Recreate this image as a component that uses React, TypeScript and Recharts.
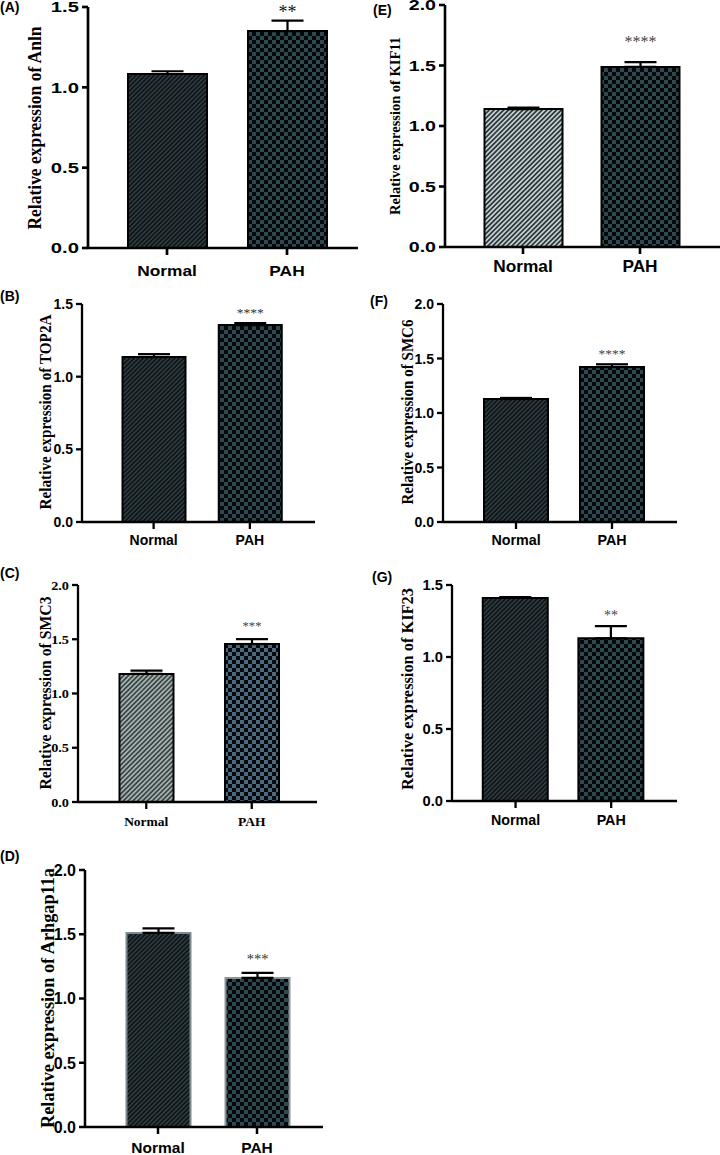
import React from "react";
import {
  BarChart,
  Bar,
  XAxis,
  YAxis,
  ErrorBar,
  Cell,
  LabelList,
  Label,
} from "recharts";

const GROUPS = ["Normal", "PAH"];

// mean and upper error (SEM) per group
const ANLN_MEAN = [1.083, 1.35];
const ANLN_ERR = [0.017, 0.065];
const TOP2A_MEAN = [1.135, 1.355];
const TOP2A_ERR = [0.02, 0.014];
const SMC3_MEAN = [1.18, 1.456];
const SMC3_ERR = [0.03, 0.045];
const ARHGAP11A_MEAN = [1.51, 1.16];
const ARHGAP11A_ERR = [0.035, 0.04];
const KIF11_MEAN = [1.14, 1.488];
const KIF11_ERR = [0.012, 0.04];
const SMC6_MEAN = [1.128, 1.422];
const SMC6_ERR = [0.01, 0.025];
const KIF23_MEAN = [1.41, 1.13];
const KIF23_ERR = [0.006, 0.085];

const STARS_ANLN = ["", "**"];
const STARS_TOP2A = ["", "****"];
const STARS_SMC3 = ["", "***"];
const STARS_ARHGAP11A = ["", "***"];
const STARS_KIF11 = ["", "****"];
const STARS_SMC6 = ["", "****"];
const STARS_KIF23 = ["", "**"];

const TICKS_15 = [0, 0.5, 1.0, 1.5];
const TICKS_20 = [0, 0.5, 1.0, 1.5, 2.0];

const SANS = "'Liberation Sans', Arial, sans-serif";
const SERIF = "'Liberation Serif', 'Times New Roman', serif";

interface Layout {
  letter: string;
  gene: string;
  left: number;
  top: number;
  width: number;
  plotTop: number;
  plotBottom: number;
  yAxisW: number;
  padL: number;
  padR: number;
  barSize: number;
  labelX: number;
  labelY: number;
  labelSize: number;
  labelLen: number;
  tickFont: string;
  yTickSize: number;
  yTickSx: number;
  xTickSize: number;
  xTickSx: number;
  xGap: number;
  axisW: number;
  starSize: number;
  starGap: number;
  starColor: string;
  letterX: number;
  letterY: number;
  fills: string[];
  strokes: string[];
}

function makeRows(mean: number[], err: number[], stars: string[]) {
  return GROUPS.map((g, i) => ({
    group: g,
    mean: mean[i],
    err: [0, err[i]],
    star: stars[i],
  }));
}

function Panel({
  L,
  mean,
  err,
  stars,
  ticks,
}: {
  L: Layout;
  mean: number[];
  err: number[];
  stars: string[];
  ticks: number[];
}) {
  const rows = makeRows(mean, err, stars);
  const marginTop = L.plotTop - L.top;
  const height = L.plotBottom - L.top + 40;

  const yTick = (p: any) => (
    <text
      transform={`translate(${p.x},${p.y}) scale(${L.yTickSx},1)`}
      textAnchor="end"
      dy="0.36em"
      fontFamily={L.tickFont}
      fontWeight="bold"
      fontSize={L.yTickSize}
      fill="#000"
    >
      {Number(p.payload.value).toFixed(1)}
    </text>
  );

  const xTick = (p: any) => (
    <text
      transform={`translate(${p.x},${p.y}) scale(${L.xTickSx},1)`}
      textAnchor="middle"
      dy="0.72em"
      fontFamily={L.tickFont}
      fontWeight="bold"
      fontSize={L.xTickSize}
      fill="#000"
    >
      {p.payload.value}
    </text>
  );

  const yTitle = () => (
    <text
      transform={`translate(${L.labelX},${L.labelY - L.top}) rotate(-90)`}
      textAnchor="middle"
      dominantBaseline="central"
      fontFamily={SERIF}
      fontWeight="bold"
      fontSize={L.labelSize}
      textLength={L.labelLen}
      lengthAdjust="spacingAndGlyphs"
      fill="#000"
    >
      {`Relative expression of ${L.gene}`}
    </text>
  );

  const starLabel = (p: any) => {
    const i = p.index;
    if (!rows[i] || !rows[i].star) return null;
    const vb = p.viewBox || p;
    const x = (p.x ?? vb.x) + (p.width ?? vb.width) / 2;
    const y = p.y ?? vb.y;
    const h = p.height ?? vb.height;
    const unit = h / rows[i].mean;
    const cy = y - err[i] * unit - L.starGap;
    return (
      <text
        x={x}
        y={cy + L.starSize * 0.5}
        textAnchor="middle"
        fontFamily={SERIF}
        fontSize={L.starSize}
        fill={L.starColor}
      >
        {rows[i].star}
      </text>
    );
  };

  return (
    <>
      <div
        style={{
          position: "absolute",
          left: L.letterX,
          top: L.letterY,
          fontFamily: SANS,
          fontWeight: "bold",
          fontSize: 14,
          lineHeight: "14px",
        }}
      >
        {L.letter}
      </div>
      <div style={{ position: "absolute", left: L.left, top: L.top }}>
        <BarChart
          width={L.width}
          height={height}
          data={rows}
          margin={{ top: marginTop, right: 0, bottom: 0, left: 0 }}
        >
          <XAxis
            dataKey="group"
            height={40}
            padding={{ left: L.padL, right: L.padR }}
            axisLine={{ stroke: "#000", strokeWidth: L.axisW }}
            tickLine={{ stroke: "#000", strokeWidth: L.axisW }}
            tickSize={7}
            tickMargin={L.xGap - 7}
            tick={xTick}
            interval={0}
          />
          <YAxis
            width={L.yAxisW}
            domain={[0, ticks[ticks.length - 1]]}
            ticks={ticks}
            interval={0}
            axisLine={{ stroke: "#000", strokeWidth: L.axisW }}
            tickLine={{ stroke: "#000", strokeWidth: L.axisW }}
            tickSize={6}
            tickMargin={3}
            tick={yTick}
          >
            <Label content={yTitle} />
          </YAxis>
          <Bar
            dataKey="mean"
            barSize={L.barSize}
            strokeWidth={2}
            isAnimationActive={false}
          >
            {rows.map((r, i) => (
              <Cell key={r.group} fill={L.fills[i]} stroke={L.strokes[i]} />
            ))}
            <ErrorBar
              dataKey="err"
              width={16}
              stroke="#000"
              strokeWidth={2.2}
              isAnimationActive={false}
            />
            <LabelList dataKey="star" content={starLabel} />
          </Bar>
        </BarChart>
      </div>
    </>
  );
}

const DARK = ["url(#stripeDark)", "url(#checkDark)"];
const BLACK = ["#000", "#000"];

const LAYOUT_A: Layout = {
  letter: "(A)", gene: "Anln", left: 0, top: 0, width: 358,
  plotTop: 7, plotBottom: 248, yAxisW: 88, padL: 19, padR: 11, barSize: 79,
  labelX: 35, labelY: 128, labelSize: 18.5, labelLen: 203, tickFont: SANS, yTickSize: 15, yTickSx: 1.35,
  xTickSize: 15.5, xTickSx: 1.12, xGap: 17, axisW: 2.7, starSize: 18, starGap: 12, starColor: "#111",
  letterX: 0, letterY: 0, fills: DARK, strokes: BLACK,
};
const LAYOUT_E: Layout = {
  letter: "(E)", gene: "KIF11", left: 360, top: 0, width: 360,
  plotTop: 5, plotBottom: 247, yAxisW: 85, padL: 19.5, padR: 21.5, barSize: 78,
  labelX: 34, labelY: 126, labelSize: 15.5, labelLen: 178, tickFont: SANS, yTickSize: 14, yTickSx: 1.4,
  xTickSize: 16, xTickSx: 1.08, xGap: 13, axisW: 2.6, starSize: 16, starGap: 23, starColor: "#444",
  letterX: 373, letterY: 3, fills: ["url(#stripeLight)", "url(#checkDark)"], strokes: BLACK,
};
const LAYOUT_B: Layout = {
  letter: "(B)", gene: "TOP2A", left: 0, top: 290, width: 315,
  plotTop: 304, plotBottom: 522, yAxisW: 82, padL: 23.5, padR: 17, barSize: 63,
  labelX: 45, labelY: 412, labelSize: 17, labelLen: 195, tickFont: SANS, yTickSize: 14, yTickSx: 1,
  xTickSize: 14, xTickSx: 1, xGap: 13, axisW: 2.3, starSize: 13.5, starGap: 13, starColor: "#333",
  letterX: 0, letterY: 289, fills: DARK, strokes: BLACK,
};
const LAYOUT_F: Layout = {
  letter: "(F)", gene: "SMC6", left: 360, top: 290, width: 317,
  plotTop: 304, plotBottom: 522, yAxisW: 83, padL: 25, padR: 17, barSize: 64,
  labelX: 47, labelY: 412, labelSize: 16.5, labelLen: 185, tickFont: SANS, yTickSize: 14, yTickSx: 1,
  xTickSize: 14.3, xTickSx: 1, xGap: 13, axisW: 2.3, starSize: 13.5, starGap: 13, starColor: "#444",
  letterX: 370, letterY: 294, fills: DARK, strokes: BLACK,
};
const LAYOUT_C: Layout = {
  letter: "(C)", gene: "SMC3", left: 0, top: 560, width: 317,
  plotTop: 585, plotBottom: 802, yAxisW: 78, padL: 15.5, padR: 12.5, barSize: 54,
  labelX: 45, labelY: 693, labelSize: 17, labelLen: 193, tickFont: SERIF, yTickSize: 13, yTickSx: 1.1,
  xTickSize: 13.5, xTickSx: 1, xGap: 14, axisW: 2.3, starSize: 12.7, starGap: 15, starColor: "#444",
  letterX: 0, letterY: 566, fills: ["url(#stripeLightC)", "url(#checkC)"], strokes: BLACK,
};
const LAYOUT_G: Layout = {
  letter: "(G)", gene: "KIF23", left: 360, top: 560, width: 317,
  plotTop: 585, plotBottom: 801, yAxisW: 92, padL: 15.75, padR: 18, barSize: 65,
  labelX: 47, labelY: 689, labelSize: 17.5, labelLen: 202, tickFont: SANS, yTickSize: 14, yTickSx: 1.05,
  xTickSize: 14.3, xTickSx: 1, xGap: 14, axisW: 2.3, starSize: 14, starGap: 13, starColor: "#444",
  letterX: 372, letterY: 570, fills: DARK, strokes: BLACK,
};
const LAYOUT_D: Layout = {
  letter: "(D)", gene: "Arhgap11a", left: 0, top: 850, width: 323,
  plotTop: 870, plotBottom: 1127, yAxisW: 85, padL: 23.5, padR: 16.5, barSize: 64,
  labelX: 47, labelY: 998, labelSize: 19.5, labelLen: 260, tickFont: SANS, yTickSize: 16, yTickSx: 1,
  xTickSize: 15.5, xTickSx: 1, xGap: 15, axisW: 2.5, starSize: 14.5, starGap: 16, starColor: "#333",
  letterX: 0, letterY: 849, fills: DARK, strokes: ["#7d8b90", "#8a969a"],
};

function Patterns() {
  return (
    <svg width={0} height={0} style={{ position: "absolute" }}>
      <defs>
        <pattern id="stripeDark" patternUnits="userSpaceOnUse" width={3.2} height={3.2} patternTransform="rotate(45)">
          <rect width={3.2} height={3.2} fill="#0f1416" />
          <rect width={1.3} height={3.2} fill="#34444a" />
        </pattern>
        <pattern id="stripeLight" patternUnits="userSpaceOnUse" width={3.4} height={3.4} patternTransform="rotate(45)">
          <rect width={3.4} height={3.4} fill="#2c393e" />
          <rect width={1.7} height={3.4} fill="#c3ccce" />
        </pattern>
        <pattern id="stripeLightC" patternUnits="userSpaceOnUse" width={3.4} height={3.4} patternTransform="rotate(45)">
          <rect width={3.4} height={3.4} fill="#3b4647" />
          <rect width={1.7} height={3.4} fill="#a6b0b0" />
        </pattern>
        <pattern id="checkDark" patternUnits="userSpaceOnUse" width={8} height={8}>
          <rect width={8} height={8} fill="#050808" />
          <rect width={4} height={4} fill="#2d4850" />
          <rect x={4} y={4} width={4} height={4} fill="#2d4850" />
        </pattern>
        <pattern id="checkC" patternUnits="userSpaceOnUse" width={8} height={8}>
          <rect width={8} height={8} fill="#06090c" />
          <rect width={4} height={4} fill="#4b6a80" />
          <rect x={4} y={4} width={4} height={4} fill="#4b6a80" />
        </pattern>
      </defs>
    </svg>
  );
}

export default function App() {
  return (
    <div
      style={{
        position: "absolute",
        left: 0,
        top: 0,
        width: 720,
        height: 1155,
        background: "#fff",
        overflow: "hidden",
      }}
    >
      <Patterns />
      <Panel L={LAYOUT_A} mean={ANLN_MEAN} err={ANLN_ERR} stars={STARS_ANLN} ticks={TICKS_15} />
      <Panel L={LAYOUT_E} mean={KIF11_MEAN} err={KIF11_ERR} stars={STARS_KIF11} ticks={TICKS_20} />
      <Panel L={LAYOUT_B} mean={TOP2A_MEAN} err={TOP2A_ERR} stars={STARS_TOP2A} ticks={TICKS_15} />
      <Panel L={LAYOUT_F} mean={SMC6_MEAN} err={SMC6_ERR} stars={STARS_SMC6} ticks={TICKS_20} />
      <Panel L={LAYOUT_C} mean={SMC3_MEAN} err={SMC3_ERR} stars={STARS_SMC3} ticks={TICKS_20} />
      <Panel L={LAYOUT_G} mean={KIF23_MEAN} err={KIF23_ERR} stars={STARS_KIF23} ticks={TICKS_15} />
      <Panel L={LAYOUT_D} mean={ARHGAP11A_MEAN} err={ARHGAP11A_ERR} stars={STARS_ARHGAP11A} ticks={TICKS_20} />
    </div>
  );
}
